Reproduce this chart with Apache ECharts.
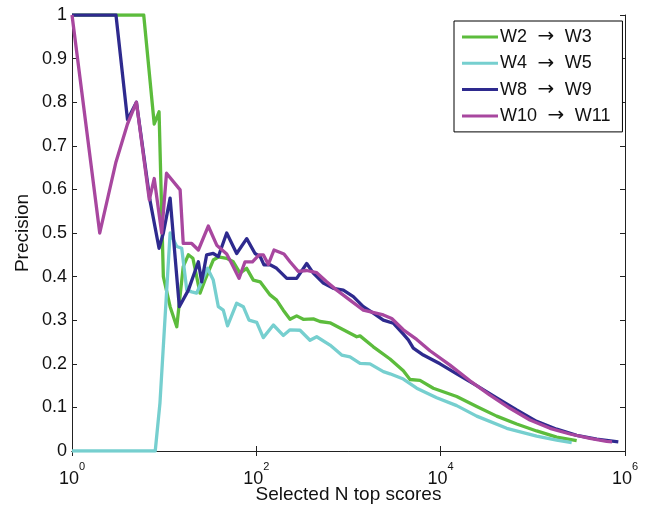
<!DOCTYPE html>
<html>
<head>
<meta charset="utf-8">
<script src="https://cdn.jsdelivr.net/npm/echarts@6/dist/echarts.min.js"></script>
<style>html,body{margin:0;padding:0;background:#fff;}#c{width:651px;height:507px;}</style>
</head>
<body>
<div id="c"></div>
<script>
// Series names
const seriesNames = ['W2 \u2192 W3', 'W4 \u2192 W5', 'W8 \u2192 W9', 'W10 \u2192 W11'];
// x tick values (decades shown)
const xTickValues = [1, 100, 10000, 1000000];
// [N, precision] pairs
const w2w3 = [[1,1],[2,1],[3,1],[4,1],[5,1],[6,1],[7.8,0.75],[8.8,0.778],[9.8,0.40],[11.6,0.331],[13.7,0.285],[16.1,0.423],[18.3,0.45],[20.5,0.442],[24.5,0.362],[27.7,0.392],[34.1,0.438],[38.7,0.445],[47.7,0.442],[56.2,0.434],[66.5,0.408],[78.5,0.419],[92.7,0.392],[110,0.388],[141,0.358],[166,0.346],[196,0.323],[232,0.302],[274,0.31],[323,0.302],[415,0.303],[491,0.297],[630,0.294],[879,0.278],[1228,0.262],[1334,0.264],[1858,0.239],[2820,0.211],[3935,0.184],[4650,0.164],[5970,0.162],[8320,0.144],[14930,0.125],[24600,0.102],[40550,0.080],[66800,0.062],[110000,0.046],[181500,0.032],[299000,0.024]];
const w4w5 = [[1,0],[2,0],[4,0],[8,0],[9,0.11],[11.6,0.5],[13.7,0.469],[15.5,0.465],[17.6,0.369],[19.9,0.365],[22.5,0.362],[29.5,0.419],[34.1,0.392],[38.7,0.331],[43.8,0.323],[48.7,0.287],[61.2,0.339],[72.2,0.331],[83.3,0.30],[101,0.295],[119,0.26],[153,0.289],[196,0.265],[232,0.278],[298,0.277],[382,0.254],[452,0.262],[630,0.243],[844,0.22],[1038,0.216],[1334,0.201],[1711,0.2],[2388,0.182],[2820,0.177],[3935,0.165],[5495,0.144],[9060,0.122],[14930,0.104],[24600,0.080],[52100,0.052],[110000,0.034],[181500,0.025],[264000,0.019]];
const w8w9 = [[1,1],[2,1],[3,1],[4,0.76],[5,0.8],[7,0.576],[8.8,0.465],[9.8,0.5],[11.6,0.58],[14.6,0.331],[18.3,0.369],[23.5,0.434],[25.5,0.388],[28.9,0.45],[34.1,0.453],[38.7,0.446],[47.7,0.5],[61.2,0.453],[78.6,0.487],[96.8,0.453],[110,0.446],[121,0.427],[141,0.427],[166,0.419],[214,0.396],[274,0.396],[352,0.43],[415,0.408],[533,0.385],[684,0.373],[879,0.369],[1128,0.354],[1449,0.331],[1858,0.316],[2388,0.300],[3063,0.293],[3935,0.268],[4457,0.255],[5047,0.236],[6486,0.220],[9840,0.200],[14930,0.177],[24600,0.150],[40550,0.122],[66800,0.094],[110000,0.068],[181500,0.050],[299000,0.036],[493000,0.027],[846000,0.021]];
const w10w11 = [[1,1],[2,0.5],[3,0.663],[4,0.75],[5,0.8],[6.9,0.576],[7.8,0.625],[9.4,0.5],[10.6,0.637],[14.9,0.599],[16.1,0.476],[19.9,0.476],[23.5,0.461],[30.1,0.516],[37.2,0.472],[47.7,0.452],[54,0.43],[64.9,0.396],[75.4,0.434],[90.8,0.434],[107,0.45],[119,0.45],[135,0.428],[155.5,0.461],[199.5,0.452],[232,0.434],[285,0.412],[352,0.414],[452,0.409],[580,0.388],[745,0.369],[1038,0.346],[1449,0.323],[2388,0.312],[2944,0.304],[3935,0.278],[5495,0.256],[7656,0.23],[12620,0.197],[20800,0.161],[34280,0.128],[56490,0.098],[93100,0.071],[153500,0.052],[253000,0.039],[417000,0.029],[632000,0.022],[723000,0.021]];

const colors = ['#5cbc3c', '#76cfcf', '#2e2a8e', '#a8479f'];
const FONT = 'Liberation Sans, Arial, Helvetica, sans-serif';
const AX = '#222';

const chart = echarts.init(document.getElementById('c'), null, {renderer: 'canvas'});
const dataSets = [w2w3, w4w5, w8w9, w10w11];

chart.setOption({
  animation: false,
  backgroundColor: '#fff',
  grid: {left: 72, right: 26, top: 15, bottom: 56, containLabel: false, outerBoundsMode: 'none'},
  legend: {
    orient: 'vertical', left: 454, top: 21,
    padding: [6, 12, 6, 8],
    itemGap: 6.3, itemWidth: 36, itemHeight: 3,
    icon: 'rect',
    backgroundColor: '#fff', borderColor: '#000', borderWidth: 1,
    formatter: function (name) { return name.replace(' \u2192 ', '{a|\u2192}'); },
    textStyle: {
      fontFamily: FONT, fontSize: 18, color: '#111', lineHeight: 20, padding: [0, 0, 0, -3],
      rich: {a: {fontFamily: 'DejaVu Sans', fontSize: 20, color: '#111', lineHeight: 20, padding: [0, 10.5, 0, 10.5]}}
    },
    data: seriesNames
  },
  xAxis: [
    {
      type: 'log', logBase: 10, min: 1, max: 1000000, position: 'bottom',
      name: 'Selected N top scores', nameLocation: 'middle', nameGap: 34, nameMoveOverlap: false,
      nameTextStyle: {fontFamily: FONT, fontSize: 19, color: '#111'},
      axisLine: {show: true, lineStyle: {color: AX, width: 1}},
      axisTick: {show: true, inside: true, length: 5, customValues: xTickValues, lineStyle: {color: AX}},
      minorTick: {show: false},
      splitLine: {show: false},
      axisLabel: {
        customValues: xTickValues,
        margin: 10,
        formatter: function (v) { return '{b|10}{s|' + Math.round(Math.log10(v)) + '}'; },
        rich: {
          b: {fontFamily: FONT, fontSize: 18, color: '#111', lineHeight: 27, verticalAlign: 'bottom'},
          s: {fontFamily: FONT, fontSize: 11, color: '#111', lineHeight: 13, verticalAlign: 'top'}
        }
      }
    },
    {
      type: 'log', logBase: 10, min: 1, max: 1000000, position: 'top',
      axisLine: {show: true, lineStyle: {color: AX, width: 1}},
      axisTick: {show: true, inside: true, length: 5, customValues: xTickValues, lineStyle: {color: AX}},
      axisLabel: {show: false},
      splitLine: {show: false}
    }
  ],
  yAxis: [
    {
      type: 'value', min: 0, max: 1, interval: 0.1, position: 'left',
      name: 'Precision', nameLocation: 'middle', nameGap: 40, nameRotate: 90, nameMoveOverlap: false,
      nameTextStyle: {fontFamily: FONT, fontSize: 19, color: '#111'},
      axisLine: {show: true, lineStyle: {color: AX, width: 1}},
      axisTick: {show: true, inside: true, length: 5, lineStyle: {color: AX}},
      splitLine: {show: false},
      axisLabel: {fontFamily: FONT, fontSize: 18, color: '#111', margin: 5}
    },
    {
      type: 'value', min: 0, max: 1, interval: 0.1, position: 'right',
      axisLine: {show: true, lineStyle: {color: AX, width: 1}},
      axisTick: {show: true, inside: true, length: 5, lineStyle: {color: AX}},
      splitLine: {show: false},
      axisLabel: {show: false}
    }
  ],
  series: seriesNames.map(function (name, i) {
    return {
      name: name, type: 'line', xAxisIndex: 0, yAxisIndex: 0,
      data: dataSets[i], showSymbol: false, symbol: 'none',
      lineStyle: {color: colors[i], width: 3.3, join: 'round'},
      itemStyle: {color: colors[i]},
      z: 2 + i
    };
  })
});
</script>
</body>
</html>
